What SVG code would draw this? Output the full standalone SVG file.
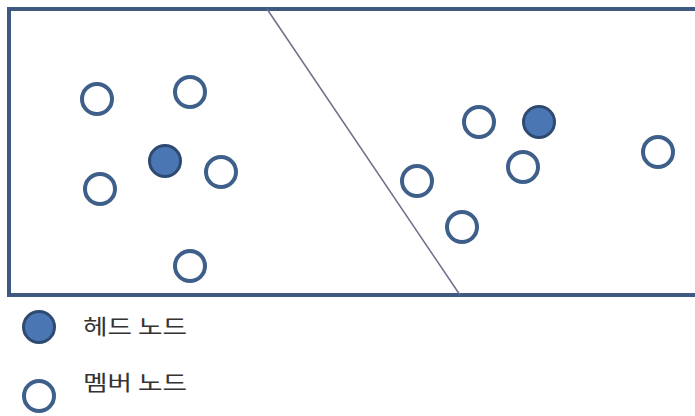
<svg xmlns="http://www.w3.org/2000/svg" width="695" height="416" viewBox="0 0 695 416">
<style>
.member{fill:#ffffff;stroke:#3e5f8a;stroke-width:4}
.head{fill:#4a76b3;stroke:#2f4a70;stroke-width:3}
.lbl{font-family:"Noto Sans CJK KR","Noto Sans",sans-serif;font-size:21px;fill:#333333}
</style>
<rect width="695" height="416" fill="#ffffff"/>
<rect id="field" x="9" y="9" width="700" height="286" fill="#ffffff" stroke="#3f5a80" stroke-width="4"/>
<g id="connectors">
<line x1="267" y1="9" x2="460" y2="295" stroke="#6e6e8c" stroke-width="1.5"/>
</g>
<g id="n1"><circle class="member" cx="97" cy="99" r="15"/></g>
<g id="n2"><circle class="member" cx="190" cy="92" r="15"/></g>
<g id="h1"><circle class="head" cx="165" cy="161" r="15.5"/></g>
<g id="n3"><circle class="member" cx="221" cy="172" r="15"/></g>
<g id="n4"><circle class="member" cx="100" cy="189" r="15"/></g>
<g id="n5"><circle class="member" cx="190" cy="266" r="15"/></g>
<g id="n6"><circle class="member" cx="479" cy="122" r="15"/></g>
<g id="h2"><circle class="head" cx="539" cy="122" r="15.5"/></g>
<g id="n7"><circle class="member" cx="523" cy="167" r="15"/></g>
<g id="n8"><circle class="member" cx="417" cy="181" r="15"/></g>
<g id="n9"><circle class="member" cx="462" cy="227" r="15"/></g>
<g id="n10"><circle class="member" cx="658" cy="152" r="15"/></g>
<g id="legend-head">
<circle class="head" cx="39" cy="327" r="15.5"/>
<text class="lbl" x="83" y="334" textLength="104" lengthAdjust="spacingAndGlyphs">헤드 노드</text>
</g>
<g id="legend-member">
<circle class="member" cx="39" cy="396" r="15"/>
<text class="lbl" x="83" y="390" textLength="104" lengthAdjust="spacingAndGlyphs">멤버 노드</text>
</g>
</svg>
